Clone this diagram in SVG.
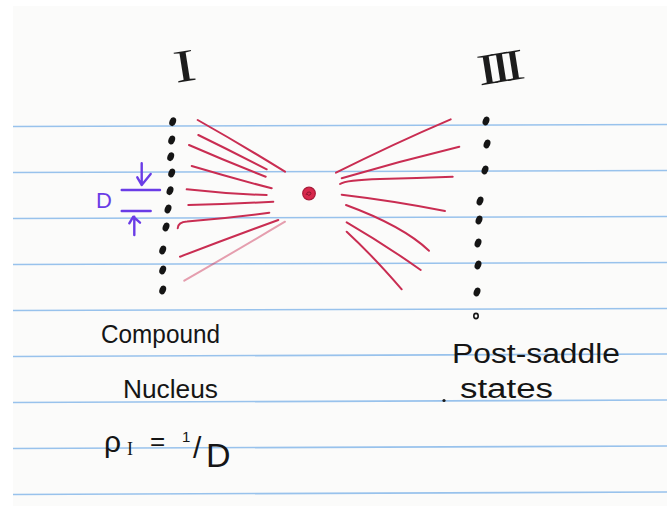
<svg xmlns="http://www.w3.org/2000/svg" xmlns:xlink="http://www.w3.org/1999/xlink" width="667" height="517" viewBox="0 0 667 517">
  <style>
    .rule { stroke: #98c2ec; stroke-width: 1.6; fill: none; }
    .ray { stroke: #c92d52; stroke-width: 2; fill: none; stroke-linecap: round; }
    .hand { font-family: "Liberation Sans", Arial, sans-serif; fill: #151515; }
    .roman { font-family: "Liberation Serif", "Times New Roman", serif; fill: #1c1c1c; }
    .mark { stroke: #6a3ce6; stroke-width: 2.4; fill: none; stroke-linecap: round; stroke-linejoin: round; }
    .dot { fill: #151515; }
  </style>
  <defs>
    <ellipse id="dot" cx="0" cy="0" rx="3.2" ry="4.5" transform="rotate(22)"/>
  </defs>

  <g id="paper">
    <rect x="0" y="0" width="667" height="517" fill="#ffffff"/>
    <rect x="13" y="6" width="654" height="500" fill="#fbfbfa"/>
  </g>

  <g id="rules">
    <line class="rule" x1="13" y1="126.5" x2="667" y2="124.5"/>
    <line class="rule" x1="13" y1="172.5" x2="667" y2="170.5"/>
    <line class="rule" x1="13" y1="218.5" x2="667" y2="216.5"/>
    <line class="rule" x1="13" y1="264.5" x2="667" y2="262.5"/>
    <line class="rule" x1="13" y1="310.5" x2="667" y2="308.5"/>
    <line class="rule" x1="13" y1="356.5" x2="667" y2="354"/>
    <line class="rule" x1="13" y1="402.5" x2="667" y2="400"/>
    <line class="rule" x1="13" y1="448.5" x2="667" y2="446"/>
    <line class="rule" x1="13" y1="494.5" x2="667" y2="492"/>
  </g>

  <g id="column-I">
    <text class="roman" x="0" y="0" font-size="46" text-anchor="middle" transform="translate(187,81) rotate(-9) scale(1.45,1)">I</text>
    <g class="dot">
      <use xlink:href="#dot" transform="translate(172.7,121.7)"/>
      <use xlink:href="#dot" transform="translate(171.7,140)"/>
      <use xlink:href="#dot" transform="translate(170.7,156.7)"/>
      <use xlink:href="#dot" transform="translate(171.7,173)"/>
      <use xlink:href="#dot" transform="translate(170,190.7)"/>
      <use xlink:href="#dot" transform="translate(168,209)"/>
      <use xlink:href="#dot" transform="translate(166,227)"/>
      <use xlink:href="#dot" transform="translate(162.7,250)"/>
      <use xlink:href="#dot" transform="translate(162.7,270)"/>
      <use xlink:href="#dot" transform="translate(162.7,290)"/>
    </g>
  </g>

  <g id="column-III">
    <text class="roman" x="-15" y="0" font-size="44" letter-spacing="-5.5" transform="translate(501,82) rotate(-9) scale(1.45,1)">III</text>
    <g class="dot">
      <use xlink:href="#dot" transform="translate(486,121)"/>
      <use xlink:href="#dot" transform="translate(487,144)"/>
      <use xlink:href="#dot" transform="translate(485,170)"/>
      <use xlink:href="#dot" transform="translate(480,201)"/>
      <use xlink:href="#dot" transform="translate(479,220)"/>
      <use xlink:href="#dot" transform="translate(478,243)"/>
      <use xlink:href="#dot" transform="translate(478,265)"/>
      <use xlink:href="#dot" transform="translate(477,292)"/>
    </g>
    <ellipse cx="476" cy="316" rx="2.2" ry="2.6" fill="none" stroke="#151515" stroke-width="1.6"/>
  </g>

  <g id="saddle">
    <circle cx="309" cy="193.5" r="6.3" fill="#d8284c" stroke="#a81c3a" stroke-width="1.2"/>
    <path d="M306,195 q1,-4 4,-3 q2,1 0,3 q-2,1 -3,-1" fill="none" stroke="#8e1530" stroke-width="1"/>
  </g>

  <g id="connectors">
    <path class="ray" d="M197.7,120 Q242,145 285,171.7"/>
    <path class="ray" d="M198.3,135 Q233,152 266.7,169.3"/>
    <path class="ray" d="M189,145 Q228,162 265.7,176.7"/>
    <path class="ray" d="M191.7,166 Q232,178 271.7,188.3"/>
    <path class="ray" d="M186.7,189.3 Q228,194 266.7,195"/>
    <path class="ray" d="M188.3,205 Q231,204 273.3,201.7"/>
    <path class="ray" d="M177.7,228.3 Q178,222 187,221.5 Q229,218 269.3,212.7"/>
    <path class="ray" d="M180,256.7 Q229,238 278.3,220"/>
    <path class="ray" d="M184.3,280.7 Q234,252 285,221.7" stroke-opacity="0.45" stroke-width="1.3"/>

    <path class="ray" d="M336,172.7 Q393,144 450.7,119.3"/>
    <path class="ray" d="M341.7,178.3 Q400,161 459.3,146.7"/>
    <path class="ray" d="M340,184 Q346,180 380,179 Q417,178 452.7,176.7"/>
    <path class="ray" d="M341.7,194.7 Q395,201 445,211"/>
    <path class="ray" d="M346,205 Q403,226 429,250.7"/>
    <path class="ray" d="M346.7,222.3 Q384,244 420.7,270"/>
    <path class="ray" d="M346.7,231.7 Q372,255 401.7,289.3"/>
  </g>

  <g id="spacing-D">
    <text x="96" y="208" font-family="Liberation Sans, Arial, sans-serif" font-size="22" fill="#6a3ce6">D</text>
    <line class="mark" x1="121.7" y1="190" x2="160" y2="190"/>
    <line class="mark" x1="121.7" y1="211" x2="150.7" y2="211"/>
    <path class="mark" d="M141.7,163.3 L141.7,185 M137.3,177.3 L141.7,185 L150.7,174"/>
    <path class="mark" d="M134.3,235 L134.3,216.7 M129.3,223.3 L133.3,216.7 L140,222.7"/>
  </g>

  <g id="labels">
    <text class="hand" x="101" y="343" font-size="26" textLength="119" lengthAdjust="spacingAndGlyphs">Compound</text>
    <text class="hand" x="123" y="398" font-size="26" textLength="95" lengthAdjust="spacingAndGlyphs">Nucleus</text>
    <text class="hand" font-size="30"><tspan x="104" y="452">ρ</tspan><tspan x="127" y="455" font-size="18" font-family="Liberation Serif, serif">I</tspan><tspan x="150" y="450" font-size="26">=</tspan><tspan x="182" y="442" font-size="15">1</tspan><tspan x="193" y="458" font-size="30">/</tspan><tspan x="206" y="467" font-size="34">D</tspan></text>
    <text class="hand" x="452" y="363" font-size="27" textLength="168" lengthAdjust="spacingAndGlyphs">Post-saddle</text>
    <circle cx="444" cy="400.5" r="1.6" fill="#1c1c1c"/>
    <text class="hand" x="460" y="398" font-size="27" textLength="93" lengthAdjust="spacingAndGlyphs">states</text>
  </g>
</svg>
